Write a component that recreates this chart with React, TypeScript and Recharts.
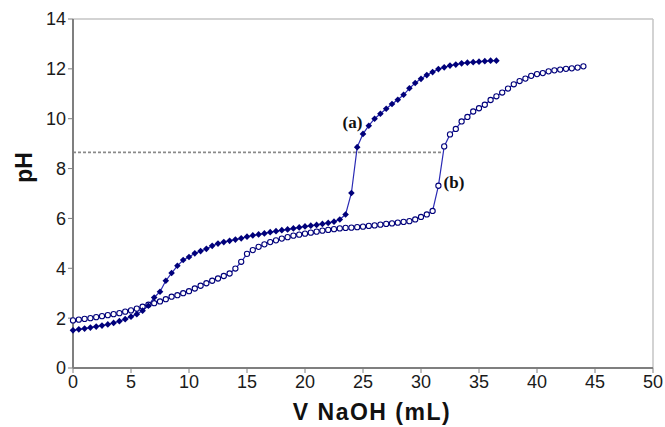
import React from 'react';
import { LineChart, Line, XAxis, YAxis, ReferenceLine, ReferenceDot } from 'recharts';

// volume of NaOH added (mL), 0.5 mL steps
const volumes = [
  0, 0.5, 1, 1.5, 2, 2.5, 3, 3.5, 4, 4.5,
  5, 5.5, 6, 6.5, 7, 7.5, 8, 8.5, 9, 9.5,
  10, 10.5, 11, 11.5, 12, 12.5, 13, 13.5, 14, 14.5,
  15, 15.5, 16, 16.5, 17, 17.5, 18, 18.5, 19, 19.5,
  20, 20.5, 21, 21.5, 22, 22.5, 23, 23.5, 24, 24.5,
  25, 25.5, 26, 26.5, 27, 27.5, 28, 28.5, 29, 29.5,
  30, 30.5, 31, 31.5, 32, 32.5, 33, 33.5, 34, 34.5,
  35, 35.5, 36, 36.5, 37, 37.5, 38, 38.5, 39, 39.5,
  40, 40.5, 41, 41.5, 42, 42.5, 43, 43.5, 44,
];

// curve (a), filled markers, stops at 36.5 mL
const phA = [
  1.51, 1.55, 1.58, 1.62, 1.66, 1.7, 1.75, 1.81, 1.88, 1.96,
  2.06, 2.16, 2.3, 2.5, 2.83, 3.06, 3.5, 3.81, 4.1, 4.33,
  4.45, 4.6, 4.69, 4.78, 4.9, 4.99, 5.05, 5.1, 5.15, 5.2,
  5.27, 5.32, 5.36, 5.4, 5.45, 5.49, 5.53, 5.56, 5.6, 5.64,
  5.68, 5.71, 5.74, 5.78, 5.82, 5.87, 5.96, 6.16, 7.02, 8.86,
  9.39, 9.72, 10.0, 10.2, 10.4, 10.59, 10.76, 10.96, 11.22, 11.43,
  11.6, 11.75, 11.87, 11.99, 12.06, 12.13, 12.17, 12.22, 12.25, 12.27,
  12.29, 12.31, 12.33, 12.33,
];

// curve (b), open markers
const phB = [
  1.91, 1.94, 1.97, 2.0, 2.04, 2.08, 2.12, 2.16, 2.2, 2.26,
  2.31, 2.38, 2.46, 2.54, 2.6, 2.67, 2.76, 2.86, 2.92, 3.0,
  3.08, 3.19, 3.3, 3.4, 3.5, 3.59, 3.69, 3.79, 3.99, 4.26,
  4.58, 4.73, 4.86, 4.96, 5.05, 5.12, 5.19, 5.25, 5.31, 5.35,
  5.39, 5.43, 5.47, 5.51, 5.54, 5.57, 5.6, 5.62, 5.63, 5.65,
  5.67, 5.7, 5.72, 5.75, 5.78, 5.8, 5.83, 5.86, 5.89, 5.96,
  6.06, 6.16, 6.3, 7.31, 8.89, 9.37, 9.59, 9.89, 10.07, 10.29,
  10.42, 10.56, 10.75, 10.9, 11.05, 11.21, 11.38, 11.51, 11.61, 11.72,
  11.79, 11.83, 11.9, 11.94, 11.97, 12.0, 12.02, 12.05, 12.1,
];

const xTicks = [0, 5, 10, 15, 20, 25, 30, 35, 40, 45, 50];
const yTicks = [0, 2, 4, 6, 8, 10, 12, 14];

const equivPH = 8.65;
const equivEnd = 31.8;

const rows = volumes.map((v, i) => ({
  v,
  a: i < phA.length ? phA[i] : null,
  b: phB[i],
}));

const NAVY = '#00007a';
const LINE = '#2a2ab4';
const AXIS = '#7f7f7f';
const SANS = '"Liberation Sans", Arial, sans-serif';
const SERIF = '"Liberation Serif", "Times New Roman", serif';

const FilledDiamond = (props: any) => {
  const { cx, cy, index } = props;
  if (cx == null || cy == null || props.value == null) return <g key={`a-${index}`} />;
  const s = 3.3;
  return (
    <path
      key={`a-${index}`}
      d={`M${cx},${cy - s}L${cx + s},${cy}L${cx},${cy + s}L${cx - s},${cy}Z`}
      fill={NAVY}
    />
  );
};

const OpenCircle = (props: any) => {
  const { cx, cy, index } = props;
  if (cx == null || cy == null) return <g key={`b-${index}`} />;
  return <circle key={`b-${index}`} cx={cx} cy={cy} r={2.6} fill="#fff" stroke={NAVY} strokeWidth={1.1} />;
};

const tickStyle = { fill: '#1a1a1a', fontSize: 18, fontFamily: SANS };
const curveLabel = { fill: '#111', fontSize: 17, fontWeight: 'bold', fontFamily: SERIF };

export default function App() {
  return (
    <div style={{ position: 'absolute', left: 0, top: 0, width: 665, height: 427, background: '#fff' }}>
      <LineChart width={665} height={427} data={rows} margin={{ top: 19, right: 12, bottom: 0, left: 0 }}>
        <XAxis
          type="number"
          dataKey="v"
          domain={[0, 50]}
          ticks={xTicks}
          interval={0}
          height={59}
          axisLine={{ stroke: AXIS, strokeWidth: 2 }}
          tickLine={{ stroke: AXIS }}
          tickSize={5}
          tickMargin={2}
          tick={tickStyle}
        />
        <YAxis
          type="number"
          domain={[0, 14]}
          ticks={yTicks}
          interval={0}
          width={73}
          axisLine={{ stroke: AXIS, strokeWidth: 2 }}
          tickLine={{ stroke: AXIS }}
          tickSize={5}
          tickMargin={2}
          tick={tickStyle}
        />
        <ReferenceLine y={14} stroke="#c4c4c4" strokeWidth={1.5} />
        <ReferenceLine x={50} stroke="#c4c4c4" strokeWidth={1.5} />
        <ReferenceLine
          segment={[{ x: 0, y: equivPH }, { x: equivEnd, y: equivPH }]}
          stroke="#8a8a8a"
          strokeWidth={1.6}
          strokeDasharray="3 2"
        />
        <Line
          type="linear"
          dataKey="b"
          stroke={LINE}
          strokeWidth={1.2}
          dot={OpenCircle}
          activeDot={false}
          isAnimationActive={false}
        />
        <Line
          type="linear"
          dataKey="a"
          stroke={LINE}
          strokeWidth={1.2}
          dot={FilledDiamond}
          activeDot={false}
          isAnimationActive={false}
        />
        <ReferenceDot x={24.09} y={9.86} r={0} stroke="none" label={{ value: '(a)', position: 'center', ...curveLabel }} />
        <ReferenceDot x={32.84} y={7.45} r={0} stroke="none" label={{ value: '(b)', position: 'center', ...curveLabel }} />
      </LineChart>
      <svg width={665} height={427} style={{ position: 'absolute', left: 0, top: 0, pointerEvents: 'none' }}>
        <text x={372} y={420} textAnchor="middle" fontSize={23} fontWeight="bold" fontFamily={SANS} letterSpacing={1.5} fill="#111">
          V NaOH (mL)
        </text>
        <text
          x={24}
          y={167.5}
          transform="rotate(-90 24 167.5)"
          textAnchor="middle"
          dominantBaseline="central"
          fontSize={23}
          fontWeight="bold"
          fontFamily={SANS}
          fill="#111"
        >
          pH
        </text>
      </svg>
    </div>
  );
}
